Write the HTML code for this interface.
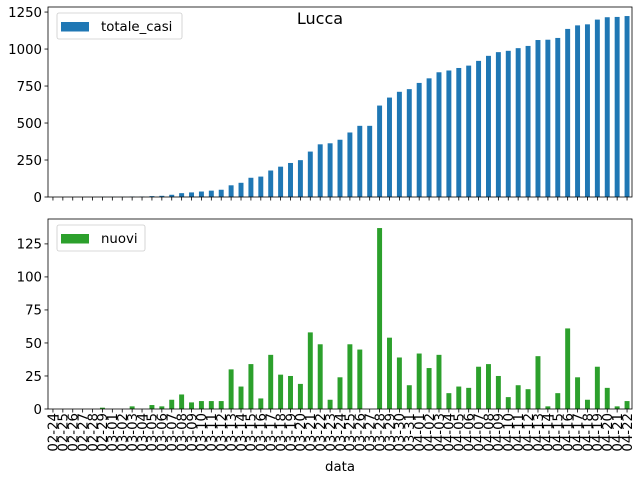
<!DOCTYPE html>
<html><head><meta charset="utf-8"><style>
body{margin:0;background:#fff}
svg{font-family:"DejaVu Sans","Liberation Sans",sans-serif}
</style></head><body>
<svg id="c" width="640" height="480" xmlns="http://www.w3.org/2000/svg"></svg>
<script>
const dates=["02-24","02-25","02-26","02-27","02-28","02-29","03-01","03-02","03-03","03-04","03-05","03-06","03-07","03-08","03-09","03-10","03-11","03-12","03-13","03-14","03-15","03-16","03-17","03-18","03-19","03-20","03-21","03-22","03-23","03-24","03-25","03-26","03-27","03-28","03-29","03-30","03-31","04-01","04-02","04-03","04-04","04-05","04-06","04-07","04-08","04-09","04-10","04-11","04-12","04-13","04-14","04-15","04-16","04-17","04-18","04-19","04-20","04-21","04-22"];
const totaleCasi=[0,0,0,0,0,1,1,1,3,3,6,8,15,26,31,37,43,49,79,96,130,138,179,205,230,249,307,356,363,387,436,481,481,618,672,711,729,771,802,843,855,872,888,920,954,979,988,1006,1021,1061,1063,1075,1136,1160,1167,1199,1215,1217,1223];
const nuovi=[0,0,0,0,0,1,0,0,2,0,3,2,7,11,5,6,6,6,30,17,34,8,41,26,25,19,58,49,7,24,49,45,0,137,54,39,18,42,31,41,12,17,16,32,34,25,9,18,15,40,2,12,61,24,7,32,16,2,6];
const topTicks=[0,250,500,750,1000,1250];
const botTicks=[0,25,50,75,100,125];
const NS="http://www.w3.org/2000/svg";
const svg=document.getElementById('c');
function mk(t,a,p){const e=document.createElementNS(NS,t);for(const k in a)e.setAttribute(k,a[k]);(p||svg).appendChild(e);return e;}
const L=48,R=632,n=dates.length;
const xs=i=>L+(i+0.5)*(R-L)/n;
const bw=0.5*(R-L)/n;
function panel(name,top,bot,vals,ticks,color,legend,lw){
  const max=Math.max(...vals)*1.05;
  const ys=v=>bot-v*(bot-top)/max;
  const g=mk('g',{});
  
  
  vals.forEach((v,i)=>{
    const r=mk('rect',{x:xs(i)-bw/2,y:ys(v),width:bw,height:bot-ys(v),fill:color},g);
    
    
  });
  ticks.forEach(t=>{
    const y=ys(t);
    mk('line',{x1:L-3.5,x2:L,y1:y,y2:y,stroke:'#000','stroke-width':0.8},g);
    const tx=mk('text',{x:L-6,y:y+4.8,'font-size':13.3,'text-anchor':'end'},g);
    tx.textContent=t;
    
    
  });
  dates.forEach((d,i)=>mk('line',{x1:xs(i),x2:xs(i),y1:bot,y2:bot+3.5,stroke:'#000','stroke-width':0.8},g));
  mk('rect',{x:L,y:top,width:R-L,height:bot-top,fill:'none',stroke:'#000','stroke-width':0.8},g);
  const lg=mk('g',{});
  
  
  mk('rect',{x:57,y:top+6,width:lw,height:26,rx:2,fill:'#fff',stroke:'#ccc','stroke-width':0.8},lg);
  mk('rect',{x:61,y:top+15,width:28,height:9.5,fill:color},lg);
  const lt=mk('text',{x:101,y:top+24,'font-size':13.3},lg);
  lt.textContent=legend;
  return {ys};
}
panel('totale-casi',7,197,totaleCasi,topTicks,'#1f77b4','totale_casi',125);
panel('nuovi',219,409,nuovi,botTicks,'#2ca02c','nuovi',88);
dates.forEach((d,i)=>{
  const t=mk('text',{x:0,y:0,'font-size':13.3,'text-anchor':'end',transform:`translate(${xs(i)+4.8},413) rotate(-90)`});
  t.textContent=d;
  
  
});
const ttl=mk('text',{x:320,y:24,'font-size':16,'text-anchor':'middle'});
ttl.textContent='Lucca';


const xl=mk('text',{x:340,y:471,'font-size':13.3,'text-anchor':'middle'});
xl.textContent='data';


</script>
</body></html>
